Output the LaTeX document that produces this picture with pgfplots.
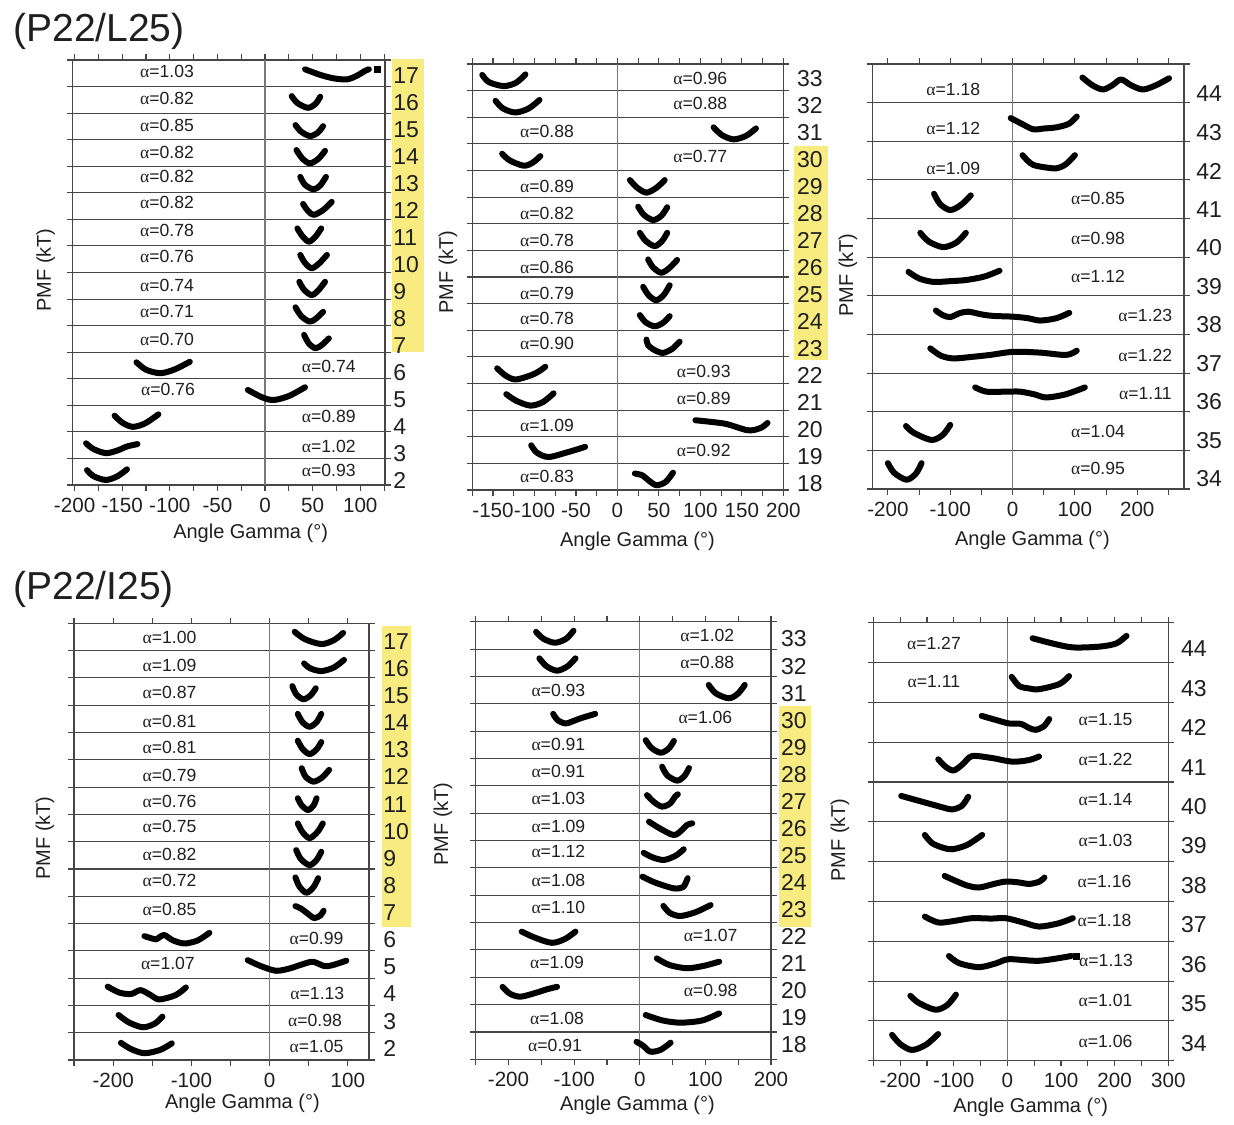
\documentclass[border=0pt]{standalone}
\usepackage{pgfplots}
\pgfplotsset{compat=1.18}
\usepackage{fontspec}
\setmainfont{Liberation Sans}
\newfontfamily\grk{Liberation Serif}
\definecolor{hl}{RGB}{248,236,128}
\definecolor{fr}{RGB}{70,70,70}
\definecolor{zl}{RGB}{120,120,120}
\newcommand{\al}[1]{{\grk α}=#1}
\pgfplotsset{
  strip/.style={
    scale only axis, clip=false, ymin=0, anchor=north west,
    axis line style={fr,line width=0.55pt},
    tick align=outside, xtick pos=both, xticklabel pos=lower, ytick pos=both,
    yticklabel={\mbox{}}, ymajorgrids, grid style={fr,line width=0.55pt},
    major tick length=2.8pt, minor tick length=2.8pt,
    tick style={fr,line width=0.55pt},
    xticklabel style={font=\fontsize{10.3}{12}\selectfont, text=black!88},
  },
  curve/.style={black, line width=3pt, smooth, line cap=round, line join=round, mark=none},
  dot/.style={black, only marks, mark=square*, mark size=1.5pt},
}
\tikzset{
  al/.style={font=\fontsize{8.8}{10}\selectfont, inner sep=0, text=black!88},
  rn/.style={anchor=west, inner sep=0, font=\fontsize{11.5}{13}\selectfont, text=black!88},
  lab/.style={inner sep=0, font=\fontsize{10}{12}\selectfont, text=black!88},
  ttl/.style={anchor=base west, inner sep=0, font=\fontsize{19.5}{22}\selectfont, text=black!88},
}
\begin{document}
\begin{tikzpicture}
\path[use as bounding box] (0pt,0pt) rectangle (617pt,-562pt);
% highlight boxes
\fill[hl] (196pt,-29.5pt) rectangle (212pt,-176pt);
\fill[hl] (397.15pt,-73pt) rectangle (414pt,-180pt);
\fill[hl] (190.85pt,-313pt) rectangle (205.5pt,-463.35pt);
\fill[hl] (389.65pt,-352.85pt) rectangle (405.5pt,-463.35pt);
\node[ttl] at (6.5pt,-20.85pt) {(P22/L25)};
\node[ttl] at (6.5pt,-299.65pt) {(P22/I25)};

% ---------------- Panel A ----------------
\begin{axis}[strip, at={(36.35pt,-30pt)}, width=156.15pt, height=212.5pt,
  xmin=-202, xmax=126, ymax=16, ytick={0,...,16},
  xtick={-200,-150,-100,-50,0,50,100}, xticklabels={-200,-150,-100,-50,0,50,100},
  minor xtick={-175,-125,-75,-25,25,75,125}]
\draw[zl,line width=0.55pt] (axis cs:0,0) -- (axis cs:0,16);
\addplot[curve] coordinates {(42,15.65)(58,15.44)(72,15.31)(86,15.27)(96,15.4)(105,15.59)(109,15.65)};
\addplot[dot] coordinates {(117.6,15.66)};
\addplot[curve] coordinates {(28,14.64)(34,14.38)(45,14.2)(53,14.35)(58,14.62)};
\addplot[curve] coordinates {(32,13.55)(38,13.3)(47,13.14)(55,13.25)(61,13.51)};
\addplot[curve] coordinates {(33,12.61)(39,12.3)(47,12.11)(56,12.28)(63,12.58)};
\addplot[curve] coordinates {(37,11.6)(42,11.3)(51,11.13)(58,11.28)(64,11.6)};
\addplot[curve] coordinates {(40,10.58)(45,10.32)(51,10.17)(61,10.35)(70,10.66)};
\addplot[curve] coordinates {(34,9.66)(39,9.38)(46,9.16)(53,9.35)(59,9.66)};
\addplot[curve] coordinates {(37,8.66)(42,8.36)(49,8.16)(57,8.35)(65,8.66)};
\addplot[curve] coordinates {(36,7.65)(41,7.35)(49,7.15)(56,7.33)(63,7.65)};
\addplot[curve] coordinates {(32,6.69)(38,6.36)(47,6.15)(54,6.28)(61,6.52)};
\addplot[curve] coordinates {(41,5.65)(46,5.33)(53,5.15)(60,5.28)(67,5.52)};
\addplot[curve] coordinates {(-135,4.62)(-125,4.34)(-110,4.21)(-95,4.35)(-79,4.64)};
\addplot[curve] coordinates {(-18,3.58)(-3,3.3)(9,3.2)(25,3.35)(42,3.68)};
\addplot[curve] coordinates {(-158,2.61)(-150,2.35)(-139,2.19)(-126,2.32)(-112,2.66)};
\addplot[curve] coordinates {(-188,1.57)(-180,1.35)(-167,1.2)(-155,1.3)(-145,1.45)(-134,1.54)};
\addplot[curve] coordinates {(-187,0.56)(-180,0.33)(-167,0.19)(-155,0.33)(-145,0.59)};
\node[al] at (axis cs:-103,15.56) {\al{1.03}};
\node[al] at (axis cs:-103,14.56) {\al{0.82}};
\node[al] at (axis cs:-103,13.52) {\al{0.85}};
\node[al] at (axis cs:-103,12.52) {\al{0.82}};
\node[al] at (axis cs:-103,11.6) {\al{0.82}};
\node[al] at (axis cs:-103,10.64) {\al{0.82}};
\node[al] at (axis cs:-103,9.6) {\al{0.78}};
\node[al] at (axis cs:-103,8.59) {\al{0.76}};
\node[al] at (axis cs:-103,7.53) {\al{0.74}};
\node[al] at (axis cs:-103,6.52) {\al{0.71}};
\node[al] at (axis cs:-103,5.49) {\al{0.70}};
\node[al] at (axis cs:67,4.46) {\al{0.74}};
\node[al] at (axis cs:-102,3.58) {\al{0.76}};
\node[al] at (axis cs:67,2.57) {\al{0.89}};
\node[al] at (axis cs:67,1.47) {\al{1.02}};
\node[al] at (axis cs:67,0.53) {\al{0.93}};
\end{axis}

% ---------------- Panel B ----------------
\begin{axis}[strip, at={(236.15pt,-32pt)}, width=155.5pt, height=213pt,
  xmin=-175, xmax=200, ymax=16, ytick={0,...,16},
  xtick={-150,-100,-50,0,50,100,150,200}, xticklabels={-150,-100,-50,0,50,100,150,200},
  minor xtick={-175,-125,-75,-25,25,75,125,175}]
\draw[zl,line width=0.55pt] (axis cs:0,0) -- (axis cs:0,16);
\addplot[curve] coordinates {(-163,15.59)(-155,15.32)(-137,15.17)(-122,15.3)(-111,15.61)};
\addplot[curve] coordinates {(-147,14.62)(-138,14.33)(-123,14.18)(-107,14.33)(-94,14.65)};
\addplot[curve] coordinates {(116,13.62)(126,13.33)(140,13.17)(155,13.3)(167,13.58)};
\addplot[curve] coordinates {(-139,12.63)(-130,12.38)(-113,12.18)(-102,12.3)(-93,12.54)};
\addplot[curve] coordinates {(15,11.64)(24,11.35)(35,11.17)(47,11.35)(57,11.64)};
\addplot[curve] coordinates {(25,10.64)(32,10.33)(43,10.14)(53,10.3)(60,10.62)};
\addplot[curve] coordinates {(27,9.66)(34,9.36)(45,9.16)(54,9.36)(60,9.66)};
\addplot[curve] coordinates {(37,8.66)(43,8.36)(53,8.16)(63,8.35)(72,8.64)};
\addplot[curve] coordinates {(31,7.63)(38,7.3)(47,7.13)(56,7.33)(63,7.69)};
\addplot[curve] coordinates {(27,6.57)(34,6.3)(45,6.15)(55,6.28)(63,6.53)};
\addplot[curve] coordinates {(35,5.65)(37,5.44)(45,5.25)(55,5.15)(66,5.3)(75,5.57)};
\addplot[curve] coordinates {(-145,4.57)(-135,4.3)(-123,4.15)(-105,4.3)(-95,4.45)(-87,4.63)};
\addplot[curve] coordinates {(-134,3.6)(-122,3.35)(-105,3.17)(-90,3.3)(-77,3.63)};
\addplot[curve] coordinates {(94,2.62)(128,2.5)(145,2.35)(156,2.25)(164,2.25)(174,2.35)(181,2.52)};
\addplot[curve] coordinates {(-104,1.68)(-97,1.4)(-83,1.24)(-60,1.42)(-39,1.62)};
\addplot[curve] coordinates {(21,0.62)(30,0.55)(38,0.35)(47,0.18)(58,0.3)(67,0.65)};
\node[al] at (axis cs:100,15.46) {\al{0.96}};
\node[al] at (axis cs:100,14.53) {\al{0.88}};
\node[al] at (axis cs:-85,13.46) {\al{0.88}};
\node[al] at (axis cs:100,12.52) {\al{0.77}};
\node[al] at (axis cs:-85,11.39) {\al{0.89}};
\node[al] at (axis cs:-85,10.39) {\al{0.82}};
\node[al] at (axis cs:-85,9.39) {\al{0.78}};
\node[al] at (axis cs:-85,8.36) {\al{0.86}};
\node[al] at (axis cs:-85,7.38) {\al{0.79}};
\node[al] at (axis cs:-85,6.44) {\al{0.78}};
\node[al] at (axis cs:-85,5.51) {\al{0.90}};
\node[al] at (axis cs:104,4.44) {\al{0.93}};
\node[al] at (axis cs:104,3.44) {\al{0.89}};
\node[al] at (axis cs:-85,2.44) {\al{1.09}};
\node[al] at (axis cs:104,1.5) {\al{0.92}};
\node[al] at (axis cs:-85,0.5) {\al{0.83}};
\end{axis}

% ---------------- Panel C ----------------
\begin{axis}[strip, at={(436.15pt,-32pt)}, width=155.85pt, height=212.5pt,
  xmin=-225, xmax=275, ymax=11, ytick={0,...,11},
  xtick={-200,-100,0,100,200}, xticklabels={-200,-100,0,100,200},
  minor xtick={-150,-50,50,150,250}]
\draw[zl,line width=0.55pt] (axis cs:0,0) -- (axis cs:0,11);
\addplot[curve] coordinates {(112,10.65)(128,10.45)(145,10.34)(160,10.45)(174,10.6)(190,10.45)(209,10.34)(230,10.45)(251,10.63)};
\addplot[curve] coordinates {(-3,9.6)(15,9.45)(33,9.31)(50,9.33)(70,9.36)(90,9.45)(103,9.64)};
\addplot[curve] coordinates {(16,8.64)(24,8.5)(33,8.39)(50,8.33)(70,8.3)(85,8.4)(100,8.64)};
\addplot[curve] coordinates {(-126,7.64)(-116,7.37)(-100,7.22)(-83,7.35)(-67,7.6)};
\addplot[curve] coordinates {(-148,6.63)(-134,6.4)(-111,6.26)(-90,6.38)(-75,6.63)};
\addplot[curve] coordinates {(-167,5.62)(-150,5.45)(-127,5.36)(-100,5.38)(-74,5.41)(-45,5.5)(-21,5.65)};
\addplot[curve] coordinates {(-123,4.62)(-112,4.5)(-100,4.45)(-85,4.55)(-71,4.59)(-50,4.52)(-31,4.48)(1,4.46)(25,4.42)(44,4.36)(70,4.42)(91,4.56)};
\addplot[curve] coordinates {(-132,3.64)(-115,3.45)(-95,3.38)(-65,3.42)(-36,3.47)(1,3.55)(44,3.53)(86,3.47)(103,3.58)};
\addplot[curve] coordinates {(-60,2.63)(-42,2.52)(-10,2.52)(12,2.52)(35,2.45)(54,2.37)(85,2.45)(116,2.63)};
\addplot[curve] coordinates {(-171,1.63)(-158,1.45)(-130,1.27)(-112,1.4)(-100,1.66)};
\addplot[curve] coordinates {(-200,0.67)(-190,0.42)(-170,0.24)(-155,0.4)(-146,0.67)};
\node[al] at (axis cs:-95,10.33) {\al{1.18}};
\node[al] at (axis cs:-95,9.34) {\al{1.12}};
\node[al] at (axis cs:-95,8.3) {\al{1.09}};
\node[al] at (axis cs:137,7.51) {\al{0.85}};
\node[al] at (axis cs:137,6.49) {\al{0.98}};
\node[al] at (axis cs:137,5.49) {\al{1.12}};
\node[al] at (axis cs:213,4.5) {\al{1.23}};
\node[al] at (axis cs:213,3.45) {\al{1.22}};
\node[al] at (axis cs:213,2.46) {\al{1.11}};
\node[al] at (axis cs:137,1.48) {\al{1.04}};
\node[al] at (axis cs:137,0.54) {\al{0.95}};
\end{axis}

% ---------------- Panel D ----------------
\begin{axis}[strip, at={(37pt,-311.65pt)}, width=147.5pt, height=218.35pt,
  xmin=-250, xmax=127, ymax=16, ytick={0,...,16},
  xtick={-200,-100,0,100}, xticklabels={-200,-100,0,100},
  minor xtick={-250,-150,-50,50}]
\draw[zl,line width=0.55pt] (axis cs:0,0) -- (axis cs:0,16);
\addplot[curve] coordinates {(32,15.69)(45,15.42)(66,15.24)(82,15.38)(94,15.65)};
\addplot[curve] coordinates {(44,14.53)(52,14.35)(66,14.25)(82,14.38)(95,14.66)};
\addplot[curve] coordinates {(29,13.7)(34,13.4)(43,13.22)(52,13.35)(59,13.62)};
\addplot[curve] coordinates {(36,12.68)(42,12.38)(51,12.21)(60,12.38)(66,12.68)};
\addplot[curve] coordinates {(36,11.7)(42,11.4)(51,11.21)(60,11.38)(66,11.65)};
\addplot[curve] coordinates {(41,10.69)(46,10.38)(56,10.2)(67,10.35)(76,10.63)};
\addplot[curve] coordinates {(36,9.59)(41,9.33)(49,9.16)(56,9.32)(60,9.59)};
\addplot[curve] coordinates {(36,8.67)(42,8.35)(51,8.13)(61,8.35)(68,8.67)};
\addplot[curve] coordinates {(34,7.69)(40,7.36)(51,7.14)(60,7.33)(66,7.63)};
\addplot[curve] coordinates {(33,6.69)(38,6.36)(47,6.13)(56,6.33)(62,6.66)};
\addplot[curve] coordinates {(33,5.64)(40,5.55)(48,5.38)(57,5.2)(65,5.3)(69,5.47)};
\addplot[curve] coordinates {(-160,4.54)(-150,4.45)(-145,4.42)(-135,4.58)(-124,4.39)(-109,4.27)(-92,4.38)(-77,4.66)};
\addplot[curve] coordinates {(-28,3.66)(-12,3.45)(8,3.27)(25,3.35)(39,3.48)(55,3.6)(70,3.44)(81,3.48)(98,3.64)};
\addplot[curve] coordinates {(-207,2.69)(-192,2.47)(-177,2.42)(-165,2.56)(-152,2.38)(-141,2.22)(-120,2.38)(-107,2.66)};
\addplot[curve] coordinates {(-193,1.65)(-180,1.38)(-162,1.2)(-147,1.33)(-137,1.59)};
\addplot[curve] coordinates {(-190,0.63)(-177,0.4)(-160,0.25)(-140,0.37)(-125,0.61)};
\node[al] at (axis cs:-128,15.49) {\al{1.00}};
\node[al] at (axis cs:-128,14.44) {\al{1.09}};
\node[al] at (axis cs:-128,13.46) {\al{0.87}};
\node[al] at (axis cs:-128,12.42) {\al{0.81}};
\node[al] at (axis cs:-128,11.46) {\al{0.81}};
\node[al] at (axis cs:-128,10.44) {\al{0.79}};
\node[al] at (axis cs:-128,9.47) {\al{0.76}};
\node[al] at (axis cs:-128,8.54) {\al{0.75}};
\node[al] at (axis cs:-128,7.55) {\al{0.82}};
\node[al] at (axis cs:-128,6.57) {\al{0.72}};
\node[al] at (axis cs:-128,5.53) {\al{0.85}};
\node[al] at (axis cs:60,4.46) {\al{0.99}};
\node[al] at (axis cs:-130,3.54) {\al{1.07}};
\node[al] at (axis cs:61,2.44) {\al{1.13}};
\node[al] at (axis cs:58,1.46) {\al{0.98}};
\node[al] at (axis cs:60,0.51) {\al{1.05}};
\end{axis}

% ---------------- Panel E ----------------
\begin{axis}[strip, at={(237.85pt,-310.85pt)}, width=147.65pt, height=218.8pt,
  xmin=-250, xmax=200, ymax=16, ytick={0,...,16},
  xtick={-200,-100,0,100,200}, xticklabels={-200,-100,0,100,200},
  minor xtick={-250,-150,-50,50,150}]
\draw[zl,line width=0.55pt] (axis cs:0,0) -- (axis cs:0,16);
\addplot[curve] coordinates {(-158,15.63)(-147,15.38)(-129,15.23)(-112,15.38)(-101,15.67)};
\addplot[curve] coordinates {(-153,14.66)(-142,14.37)(-126,14.21)(-110,14.37)(-98,14.66)};
\addplot[curve] coordinates {(105,13.69)(116,13.38)(136,13.2)(150,13.38)(160,13.69)};
\addplot[curve] coordinates {(-132,12.63)(-125,12.4)(-113,12.28)(-100,12.38)(-90,12.47)(-68,12.63)};
\addplot[curve] coordinates {(9,11.67)(18,11.38)(32,11.21)(44,11.36)(52,11.64)};
\addplot[curve] coordinates {(34,10.7)(42,10.38)(57,10.19)(68,10.36)(75,10.65)};
\addplot[curve] coordinates {(11,9.66)(22,9.4)(34,9.24)(46,9.35)(54,9.61)(58,9.69)};
\addplot[curve] coordinates {(14,8.69)(30,8.45)(52,8.2)(65,8.4)(72,8.57)(80,8.63)};
\addplot[curve] coordinates {(6,7.55)(20,7.38)(37,7.29)(55,7.45)(67,7.68)};
\addplot[curve] coordinates {(4,6.68)(15,6.55)(27,6.43)(52,6.25)(66,6.3)(72,6.56)(73,6.62)};
\addplot[curve] coordinates {(36,5.61)(46,5.35)(62,5.24)(85,5.38)(108,5.64)};
\addplot[curve] coordinates {(-180,4.67)(-160,4.45)(-134,4.26)(-114,4.4)(-98,4.67)};
\addplot[curve] coordinates {(26,3.69)(45,3.45)(72,3.33)(98,3.42)(121,3.57)};
\addplot[curve] coordinates {(-209,2.65)(-198,2.4)(-182,2.29)(-160,2.42)(-140,2.57)(-126,2.65)};
\addplot[curve] coordinates {(9,1.62)(35,1.42)(62,1.34)(95,1.42)(121,1.68)};
\addplot[curve] coordinates {(-5,0.64)(5,0.5)(16,0.28)(32,0.35)(47,0.61)};
\node[al] at (axis cs:103,15.48) {\al{1.02}};
\node[al] at (axis cs:103,14.5) {\al{0.88}};
\node[al] at (axis cs:-124,13.47) {\al{0.93}};
\node[al] at (axis cs:100,12.5) {\al{1.06}};
\node[al] at (axis cs:-124,11.53) {\al{0.91}};
\node[al] at (axis cs:-124,10.52) {\al{0.91}};
\node[al] at (axis cs:-124,9.54) {\al{1.03}};
\node[al] at (axis cs:-124,8.53) {\al{1.09}};
\node[al] at (axis cs:-124,7.59) {\al{1.12}};
\node[al] at (axis cs:-124,6.53) {\al{1.08}};
\node[al] at (axis cs:-124,5.56) {\al{1.10}};
\node[al] at (axis cs:108,4.54) {\al{1.07}};
\node[al] at (axis cs:-126,3.53) {\al{1.09}};
\node[al] at (axis cs:108,2.53) {\al{0.98}};
\node[al] at (axis cs:-126,1.5) {\al{1.08}};
\node[al] at (axis cs:-129,0.52) {\al{0.91}};
\end{axis}

% ---------------- Panel F ----------------
\begin{axis}[strip, at={(436.65pt,-311.35pt)}, width=147.5pt, height=219pt,
  xmin=-250, xmax=300, ymax=11, ytick={0,...,11},
  xtick={-200,-100,0,100,200,300}, xticklabels={-200,-100,0,100,200,300},
  minor xtick={-250,-150,-50,50,150,250}]
\draw[zl,line width=0.55pt] (axis cs:0,0) -- (axis cs:0,11);
\addplot[curve] coordinates {(47,10.61)(84,10.48)(122,10.38)(172,10.4)(203,10.48)(222,10.67)};
\addplot[curve] coordinates {(8,9.64)(22,9.41)(40,9.35)(59,9.33)(97,9.46)(115,9.66)};
\addplot[curve] coordinates {(-48,8.66)(-22,8.56)(3,8.47)(25,8.46)(40,8.36)(53,8.31)(68,8.4)(78,8.58)};
\addplot[curve] coordinates {(-129,7.57)(-115,7.38)(-100,7.29)(-83,7.45)(-66,7.65)(-28,7.6)(9,7.51)(40,7.55)(59,7.64)};
\addplot[curve] coordinates {(-198,6.65)(-147,6.46)(-120,6.36)(-103,6.31)(-85,6.4)(-73,6.63)};
\addplot[curve] coordinates {(-154,5.67)(-140,5.46)(-120,5.35)(-103,5.31)(-75,5.42)(-47,5.67)};
\addplot[curve] coordinates {(-117,4.64)(-97,4.52)(-75,4.4)(-53,4.35)(-25,4.44)(-3,4.5)(20,4.48)(41,4.44)(60,4.5)(69,4.6)};
\addplot[curve] coordinates {(-154,3.62)(-128,3.47)(-95,3.52)(-66,3.58)(-30,3.57)(-3,3.58)(30,3.47)(59,3.37)(95,3.45)(122,3.58)};
\addplot[curve] coordinates {(-109,2.63)(-90,2.45)(-53,2.35)(-20,2.45)(3,2.55)(59,2.51)(119,2.63)};
\addplot[dot] coordinates {(128,2.63)};
\addplot[curve] coordinates {(-181,1.63)(-165,1.45)(-134,1.28)(-112,1.4)(-96,1.66)};
\addplot[curve] coordinates {(-215,0.65)(-200,0.42)(-178,0.27)(-152,0.4)(-129,0.67)};
\node[al] at (axis cs:-137,10.48) {\al{1.27}};
\node[al] at (axis cs:-137,9.52) {\al{1.11}};
\node[al] at (axis cs:183,8.56) {\al{1.15}};
\node[al] at (axis cs:183,7.57) {\al{1.22}};
\node[al] at (axis cs:183,6.55) {\al{1.14}};
\node[al] at (axis cs:183,5.54) {\al{1.03}};
\node[al] at (axis cs:181,4.49) {\al{1.16}};
\node[al] at (axis cs:181,3.52) {\al{1.18}};
\node[al] at (axis cs:184,2.51) {\al{1.13}};
\node[al] at (axis cs:183,1.52) {\al{1.01}};
\node[al] at (axis cs:183,0.48) {\al{1.06}};
\end{axis}

% row numbers
\foreach \n in {2,...,17} \node[rn] at ({196.5pt},{-(37.9+(17-\n)*13.49)*1pt}) {\n};
\foreach \n in {18,...,33} \node[rn] at ({398.35pt},{-(39.15+(33-\n)*13.525)*1pt}) {\n};
\foreach \n in {34,...,44} \node[rn] at ({598pt},{-(47+(44-\n)*19.25)*1pt}) {\n};
\foreach \n in {2,...,17} \node[rn] at ({191.5pt},{-(320.65+(17-\n)*13.565)*1pt}) {\n};
\foreach \n in {18,...,33} \node[rn] at ({390.35pt},{-(319.5+(33-\n)*13.535)*1pt}) {\n};
\foreach \n in {34,...,44} \node[rn] at ({590.35pt},{-(324.35+(44-\n)*19.73)*1pt}) {\n};

% axis labels
\node[lab] at (125.3pt,-266.7pt) {Angle Gamma (°)};
\node[lab] at (318.7pt,-270.8pt) {Angle Gamma (°)};
\node[lab] at (516.2pt,-270.3pt) {Angle Gamma (°)};
\node[lab] at (121.2pt,-551.7pt) {Angle Gamma (°)};
\node[lab] at (318.7pt,-552.8pt) {Angle Gamma (°)};
\node[lab] at (515.3pt,-553.7pt) {Angle Gamma (°)};
\node[lab,rotate=90] at (22.8pt,-135pt) {PMF (kT)};
\node[lab,rotate=90] at (224pt,-136pt) {PMF (kT)};
\node[lab,rotate=90] at (424pt,-137.5pt) {PMF (kT)};
\node[lab,rotate=90] at (22.5pt,-419pt) {PMF (kT)};
\node[lab,rotate=90] at (221.5pt,-412pt) {PMF (kT)};
\node[lab,rotate=90] at (420pt,-420pt) {PMF (kT)};
\end{tikzpicture}
\end{document}
